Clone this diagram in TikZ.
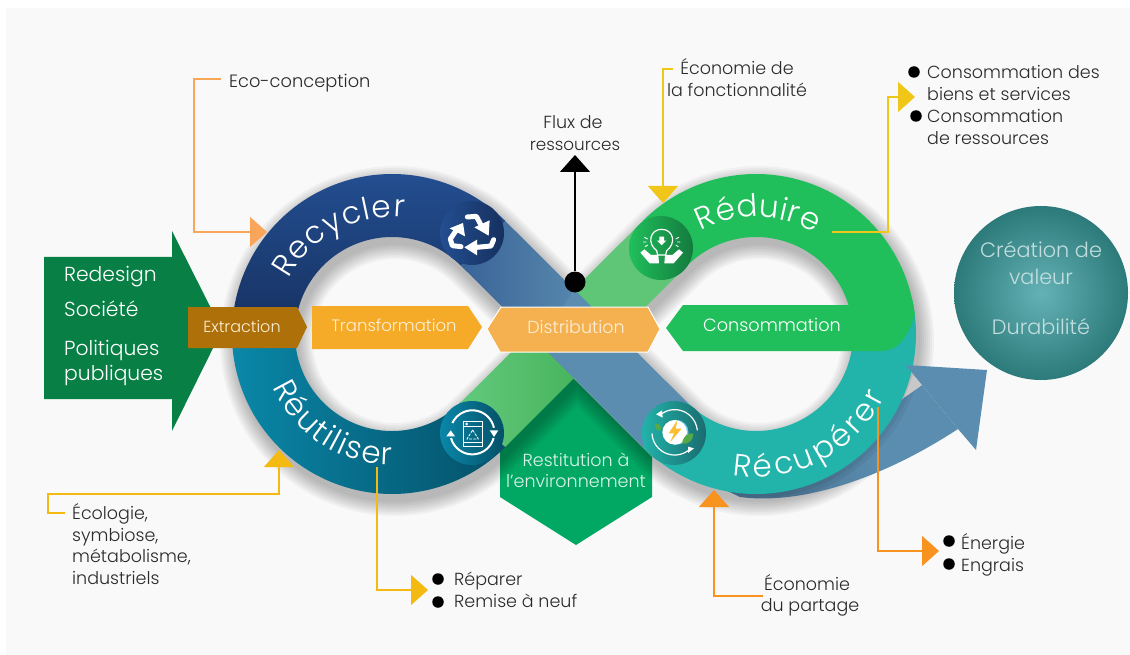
\documentclass[tikz,border=0pt]{standalone}
\usepackage{fontspec}
\setmainfont{Poppins}[UprightFont=* Light]
\usetikzlibrary{arrows.meta,decorations.text}
\definecolor{panel}{HTML}{F9F9F9}
\definecolor{cgreen}{HTML}{20BF5B}
\definecolor{cteal}{HTML}{22B3AA}
\definecolor{cblue}{HTML}{5B8DB0}
\definecolor{cblueD}{HTML}{3A6498}
\definecolor{cblueL}{HTML}{6093B3}
\definecolor{bodyD}{HTML}{4A7493}
\definecolor{bodyM}{HTML}{527F9F}
\definecolor{cdk}{HTML}{2A2A2A}
\definecolor{lorange}{HTML}{F9A65A}
\definecolor{cyel}{HTML}{F5BA12}
\definecolor{cyelb}{HTML}{F0C619}
\definecolor{corg}{HTML}{F7931E}
\definecolor{arrowgreen}{HTML}{087F45}
\definecolor{hexgreen}{HTML}{00A864}
\definecolor{ribL}{HTML}{62C97C}
\definecolor{ribR}{HTML}{48B55E}
\definecolor{ribM}{HTML}{5FC678}
\definecolor{navyT}{HTML}{234E90}
\definecolor{navyB}{HTML}{16305F}
\definecolor{petL}{HTML}{0A87A8}
\definecolor{petR}{HTML}{045068}
\definecolor{gicoR}{HTML}{147A3E}
\definecolor{ticoR}{HTML}{1A6C70}
\definecolor{brown}{HTML}{AE7009}
\definecolor{amber}{HTML}{F5AB28}
\definecolor{amberL}{HTML}{F5B14F}
\definecolor{cream}{HTML}{FCEFD9}
\definecolor{resT}{HTML}{DDF4E8}
\definecolor{valT}{HTML}{C3DEDE}
\definecolor{valI}{HTML}{64B2B6}
\definecolor{valO}{HTML}{2D7A7A}
\definecolor{greyT}{HTML}{C8C8C8}
\definecolor{boltY}{HTML}{FABE32}
\definecolor{leaf}{HTML}{55AA46}
\definecolor{haloB}{HTML}{78CDEB}
\pgfdeclarehorizontalshading{arrowbody}{100bp}{color(0bp)=(bodyD); color(40bp)=(bodyD); color(50bp)=(bodyM); color(60bp)=(cblue); color(100bp)=(cblue)}
\newcommand{\arcP}[5]{plot[domain=#4:#5,samples=120,variable=\t]({#1+#3*cos(\t)},{#2-#3*sin(\t)})}
\newcommand{\arcL}[5]{-- plot[domain=#4:#5,samples=120,variable=\t]({#1+#3*cos(\t)},{#2-#3*sin(\t)})}
\newcommand{\ringf}{\fontsize{31}{31}\selectfont\color{white}}
\newcommand{\bodyPath}{(700,478) -- (740,497) .. controls (800,505) and (880,480) .. (958,429) -- (922,385) -- (905,397) -- (860,440) -- cycle}
\tikzset{
  lbl/.style={inner sep=0pt,text height=16pt,text depth=2pt,font=\fontsize{17.5}{20}\selectfont,text=cdk},
  wlbl/.style={lbl,text=#1},
  callout/.style={line width=1.3pt,draw=#1},
  tip/.style={-{Triangle[width=30pt,length=17pt]}},
  bul/.style={circle,fill=black,inner sep=0pt,minimum size=11.5pt},
  ringtext/.style={decorate,decoration={text along path,text={|\ringf|#1},text align={fit to path}}},
  wline/.style={draw=white,line width=#1,line cap=round,line join=round},
}
\begin{document}
\begin{tikzpicture}[x=1pt,y=-1pt]
\useasboundingbox (0,0) rectangle (1130,655);
\fill[white] (0,0) rectangle (1130,655);
\fill[panel] (6,8) rectangle (1130,655);

% left green arrow
\fill[arrowgreen] (44,257) -- (172,257) -- (172,231) -- (222,330) -- (172,431) -- (172,399) -- (44,399) -- cycle;

% restitution hexagon
\fill[hexgreen] (573,378) -- (652,457) -- (652,497) -- (576,545) -- (500,497) -- (500,451) -- cycle;

% soft shadow of the ribbon
\foreach \w in {93,89,85,81,77,73,69,65}{
  \draw[black,opacity=.035,line width=\w pt,line join=round,shift={(3,7)}]
    \arcP{392}{334}{128.5}{45}{315} \arcL{756}{334}{128.5}{135}{-135} -- cycle;
}

% big arrow body
\shade[shading=arrowbody] \bodyPath;
\begin{scope}
  \clip \bodyPath;
  \draw[black,opacity=.05,line width=16pt] (756,334) circle[radius=160pt];
  \draw[black,opacity=.05,line width=8pt] (756,334) circle[radius=160pt];
\end{scope}

% green diagonal
\shade[left color=ribL,right color=ribR]
  (460.6,402.6) -- (505.1,447.1) -- (574,378) -- (574,334) -- (529.5,334) -- cycle;
\fill[ribM] (529.5,334) -- (642.9,220.9) -- (687.4,265.4) -- (574,378) -- cycle;
% blue diagonal
\shade[left color=cblueD,right color=cblueL]
  (505.1,220.9) -- (574,289.5) -- (618.5,334) -- (574,378) -- (460.6,265.4) -- cycle;
\fill[cblue] (574,289.5) -- (687.4,402.6) -- (642.9,447.1) -- (574,378) -- (540,344) -- cycle;

% rings
\shade[top color=navyT,bottom color=navyB]
  \arcP{392}{334}{160}{180}{45} \arcL{392}{334}{97}{45}{180} -- cycle;
\shade[left color=petL,right color=petR]
  \arcP{392}{334}{160}{180}{315} \arcL{392}{334}{97}{315}{180} -- cycle;
\fill[cteal] \arcP{756}{334}{160}{225}{372} \arcL{756}{334}{97}{372}{225} -- cycle;
\fill[cgreen] \arcP{756}{334}{160}{135}{7} .. controls (908,338) and (897,351) .. (882,351)
  -- (683,351) -- (666,328) -- (683,305) -- (848.6,305) \arcL{756}{334}{97}{17.4}{135} -- cycle;

% big arrow head over the ring
\fill[greyT] (913,375) -- (922,385) -- (905,397) -- cycle;
\fill[cblue] (906,365) -- (987,370) -- (976,450) -- (958,429) -- (922,385) -- cycle;

% ring words
\path[ringtext={Recycler}] \arcP{392}{334}{117}{152}{84};
\path[ringtext={Réduire}] \arcP{756}{334}{117}{118}{60};
\path[ringtext={Réutiliser}] \arcP{392}{334}{131}{204}{270};
\path[ringtext={Récupérer}] \arcP{756}{334}{143}{260.5}{334};

% bars
\fill[brown] (188,307) -- (297,307) -- (307,327) -- (297,348) -- (188,348) -- cycle;
\fill[amber] (312,306) -- (468,306) -- (482,327) -- (468,349) -- (312,349) -- cycle;
\filldraw[fill=amberL,draw=white,line width=1pt] (501,307) -- (648,307) -- (660,329) -- (648,352) -- (500,352) -- (487,329) -- cycle;

\node[wlbl=cream,font=\fontsize{16}{18}\selectfont] (extraction) at (242,325) {Extraction};
\node[wlbl=cream,font=\fontsize{16.5}{20}\selectfont] (transformation) at (394,324) {Transformation};
\node[wlbl=cream] (distribution) at (576,326) {Distribution};
\node[wlbl=white,font=\fontsize{17.7}{20}\selectfont] (consommation) at (772,324) {Consommation};

% icons
\shade[left color=navyT,right color=navyB] (472,233) circle[radius=32pt];
\shade[left color=cgreen,right color=gicoR] (661,248) circle[radius=32pt];
\shade[left color=petL,right color=petR] (472,433) circle[radius=32pt];
\shade[left color=cteal,right color=ticoR] (674,433) circle[radius=32pt];
% recycle icon
\begin{scope}[shift={(435,195)},x=.3333pt,y=-.3333pt]
  \draw[wline=5pt] (97,66) -- (124,64) -- (139,92);
  \fill[white] (118,97) -- (164,76) -- (161,122) -- cycle;
  \draw[wline=5pt] (176,134) -- (168,153) -- (125,157);
  \fill[white] (126,134) -- (88,157) -- (126,181) -- cycle;
  \draw[wline=5pt] (78,155) -- (52,152) -- (46,132) -- (63,107);
  \fill[white] (44,100) -- (84,84) -- (90,124) -- cycle;
\end{scope}
% lightbulb icon
\begin{scope}[shift={(625,210)},x=.3333pt,y=-.3333pt]
  \draw[white,line width=1.2pt] (95,122) .. controls (65,100) and (75,58) .. (110,58) .. controls (145,58) and (155,100) .. (125,122) -- (122,135) -- (98,135) -- cycle;
  \fill[white] (103,80) -- (117,80) -- (117,92) -- (124,92) -- (110,106) -- (96,92) -- (103,92) -- cycle;
  \fill[white] (46,128) -- (58,118) -- (78,135) -- (100,135) -- (102,160) -- (74,160) -- cycle;
  \fill[white] (174,128) -- (162,118) -- (142,135) -- (120,135) -- (118,160) -- (146,160) -- cycle;
  \draw[white,line width=.9pt] (58,82) -- (68,87) (54,96) -- (64,96) (60,110) -- (68,105) (162,82) -- (152,87) (166,96) -- (156,96) (160,110) -- (152,105);
\end{scope}
% reuse icon
\begin{scope}[shift={(435,395)},x=.3333pt,y=-.3333pt]
  \draw[white,line width=2pt] \arcP{112}{112}{66}{155}{12};
  \draw[white,line width=2pt] \arcP{112}{112}{66}{345}{195};
  \fill[white] (164,106) -- (190,106) -- (177,126) -- cycle;
  \fill[white] (34,124) -- (60,124) -- (47,106) -- cycle;
  \draw[white,line width=1pt] (85,80) rectangle (142,155);
  \draw[white,line width=1pt] (85,94) -- (142,94) (85,143) -- (142,143);
  \fill[white] (95,87) circle[radius=1.5pt];
  \draw[white,line width=.8pt,dash pattern=on 3pt off 1.2pt] (113,105) -- (130,132) -- (96,132) -- cycle;
\end{scope}
% energy icon
\begin{scope}[shift={(638,395)},x=.3333pt,y=-.3333pt]
  \fill[haloB] (114,112) circle[radius=12.5pt];
  \fill[white] (110,112) circle[radius=12.3pt];
  \fill[boltY] (118,76) -- (92,115) -- (108,115) -- (96,142) -- (131,101) -- (113,101) -- cycle;
  \draw[white,line width=1.2pt] \arcP{110}{112}{68}{130}{5};
  \draw[white,line width=1.2pt] \arcP{110}{112}{68}{183}{310};
  \fill[white] (72,46) -- (54,58) -- (74,68) -- cycle;
  \fill[white] (150,155) -- (168,160) -- (150,174) -- cycle;
  \fill[leaf] (50,88) .. controls (60,82) and (68,90) .. (70,98) .. controls (66,112) and (56,112) .. (50,88) -- cycle;
  \fill[leaf] (166,116) .. controls (150,112) and (136,122) .. (132,146) .. controls (155,148) and (165,135) .. (166,116) -- cycle;
\end{scope}

% flux
\node[circle,fill=black,inner sep=0pt,minimum size=21pt] (fluxdot) at (575,282) {};
\coordinate (fluxtip) at (575,155);
\draw[black,line width=1.3pt,tip] (fluxdot) -- (fluxtip);
\node[lbl] (flux1) at (573,122) {Flux de};
\node[lbl,font=\fontsize{16.8}{20}\selectfont] (flux2) at (575,144) {ressources};

% eco-conception
\node[lbl,anchor=west,font=\fontsize{17.8}{20}\selectfont] (eco) at (229,81) {Eco-conception};
\coordinate (ecoA) at (221,79); \coordinate (ecoB) at (194,79); \coordinate (ecoC) at (194,232); \coordinate (ecoD) at (267,232);
\draw[callout=lorange,tip] (ecoA) -- (ecoB) -- (ecoC) -- (ecoD);

% ecologie
\coordinate (ecoloA) at (65,513); \coordinate (ecoloB) at (48,513); \coordinate (ecoloC) at (48,494); \coordinate (ecoloD) at (279,494); \coordinate (ecoloE) at (279,450);
\draw[callout=cyel,tip] (ecoloA) -- (ecoloB) -- (ecoloC) -- (ecoloD) -- (ecoloE);
\node[lbl,anchor=west] (ecolo1) at (72,512) {Écologie,};
\node[lbl,anchor=west] (ecolo2) at (72,534) {symbiose,};
\node[lbl,anchor=west] (ecolo3) at (72,555) {métabolisme,};
\node[lbl,anchor=west] (ecolo4) at (72,577) {industriels};

% reparer
\coordinate (repA) at (377,467); \coordinate (repB) at (377,590); \coordinate (repC) at (428,590);
\draw[callout=cyel,tip] (repA) -- (repB) -- (repC);
\node[bul] (bul1) at (438,579) {}; \node[bul] (bul2) at (438,602) {};
\node[lbl,anchor=west] (rep1) at (454,578) {Réparer};
\node[lbl,anchor=west] (rep2) at (454,600) {Remise à neuf};

% fonctionnalite
\coordinate (fonA) at (673,69); \coordinate (fonB) at (663,69); \coordinate (fonC) at (663,203);
\draw[callout=cyelb,tip] (fonA) -- (fonB) -- (fonC);
\node[lbl] (fon1) at (737,68) {Économie de};
\node[lbl] (fon2) at (737,90) {la fonctionnalité};

% consommation callout
\coordinate (conA) at (832,232); \coordinate (conB) at (888,232); \coordinate (conC) at (888,97); \coordinate (conD) at (915,97);
\draw[callout=cyelb,tip] (conA) -- (conB) -- (conC) -- (conD);
\node[bul] (bul3) at (914,72) {}; \node[bul] (bul4) at (916,116) {};
\node[lbl,anchor=west] (con1) at (927,72) {Consommation des};
\node[lbl,anchor=west] (con2) at (927,94) {biens et services};
\node[lbl,anchor=west] (con3) at (927,116) {Consommation};
\node[lbl,anchor=west] (con4) at (927,138) {de ressources};

% energie
\coordinate (eneA) at (878,407); \coordinate (eneB) at (878,551); \coordinate (eneC) at (939,551);
\draw[callout=corg,tip] (eneA) -- (eneB) -- (eneC);
\node[bul] (bul5) at (949,541) {}; \node[bul] (bul6) at (949,564) {};
\node[lbl,anchor=west] (ene1) at (961,542) {Énergie};
\node[lbl,anchor=west] (ene2) at (961,564) {Engrais};

% partage
\coordinate (parA) at (763,596); \coordinate (parB) at (714,596); \coordinate (parC) at (714,490);
\draw[callout=corg,tip] (parA) -- (parB) -- (parC);
\node[lbl] (par1) at (807,583) {Économie};
\node[lbl] (par2) at (810,604) {du partage};

% left arrow words
\node[wlbl=white,font=\fontsize{20.3}{24}\selectfont,anchor=west] (r1) at (64,274) {Redesign};
\node[wlbl=white,font=\fontsize{20.3}{24}\selectfont,anchor=west] (r2) at (64,309) {Société};
\node[wlbl=white,font=\fontsize{20.3}{24}\selectfont,anchor=west] (r3) at (64,348) {Politiques};
\node[wlbl=white,font=\fontsize{20.3}{24}\selectfont,anchor=west] (r4) at (64,373) {publiques};

% restitution words
\node[wlbl=resT] (res1) at (576,459) {Restitution à};
\node[wlbl=resT] (res2) at (576,480) {l’environnement};

% value circle
\shade[inner color=valI,outer color=valO] (1041,293) circle[radius=87pt];
\node[wlbl=valT,font=\fontsize{20.8}{24}\selectfont] (val1) at (1041,251) {Création de};
\node[wlbl=valT,font=\fontsize{20.8}{24}\selectfont] (val2) at (1041,277) {valeur};
\node[wlbl=valT,font=\fontsize{20.8}{24}\selectfont] (val3) at (1041,327) {Durabilité};
\end{tikzpicture}
\end{document}
